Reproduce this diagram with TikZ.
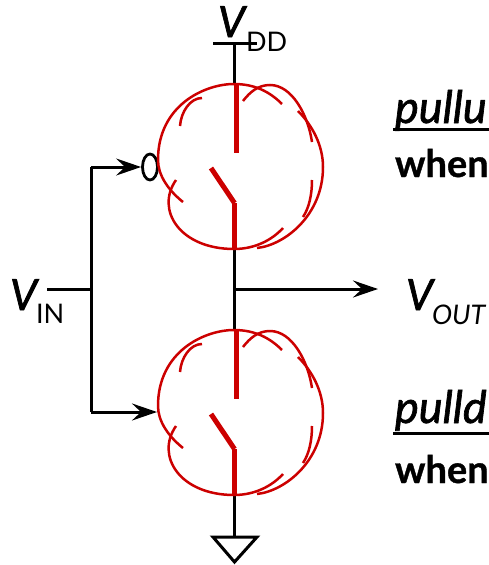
\documentclass[tikz,border=0pt]{standalone}
\usepackage{fontspec}
\setmainfont{Lato}
\usetikzlibrary{arrows.meta,shapes.geometric}
\definecolor{cred}{HTML}{CC0000}
\tikzset{
  wire/.style={draw=black,line width=3pt},
  arrowwire/.style={wire,-{Stealth[length=25pt,width=17pt,inset=9pt]}},
  cloudline/.style={draw=cred,line width=2.5pt},
  contact/.style={draw=cred,line width=5.5pt},
  swing/.style={draw=cred,line width=5pt},
  lab/.style={anchor=base west,inner sep=0pt,outer sep=0pt},
  bigv/.style={lab,font=\fontsize{43}{43}\selectfont\itshape\addfontfeature{FakeBold=1.5}},
  subs/.style={lab,font=\fontsize{27}{27}\selectfont},
  subi/.style={lab,font=\fontsize{27}{27}\selectfont\itshape},
  word/.style={lab,font=\fontsize{38}{38}\selectfont\bfseries\addfontfeature{FakeBold=1}},
  wordi/.style={lab,font=\fontsize{45}{45}\selectfont\itshape\addfontfeature{FakeBold=1.5}}
}
\newcommand{\switchcloud}{%
  \draw[cloudline] (234,84) .. controls (205,84) and (158,105) .. (158,160) .. controls (158,175) and (168,190) .. (183,202);
  \draw[cloudline] (176,180) .. controls (155,210) and (180,249) .. (234,249) .. controls (255,249) and (272,240) .. (283,228);
  \draw[cloudline] (257,248) .. controls (285,245) and (323,215) .. (323,167) .. controls (323,145) and (312,125) .. (298,111);
  \draw[cloudline] (312,180) .. controls (312,195) and (309,208) .. (303,217);
  \draw[cloudline] (312,142) .. controls (308,115) and (292,85) .. (270,85) .. controls (258,85) and (250,92) .. (243,101);
  \draw[cloudline] (234,84) .. controls (255,84) and (270,92) .. (282,104);
  \draw[cloudline] (180,126) .. controls (181,112) and (190,98) .. (202,98);
  \draw[contact] (236.5,84) -- (236.5,153);
  \draw[contact] (234.5,203) -- (234.5,249);
  \draw[swing] (211,168) -- (234.5,203);
}
\begin{document}
\begin{tikzpicture}[x=1pt,y=-1pt]
\useasboundingbox (0,0) rectangle (489,565);
\clip (0,0) rectangle (489,565);
% named points
\coordinate (vddL) at (213,43.5);
\coordinate (vddR) at (257,43.5);
\coordinate (vddT) at (234.5,43.5);
\coordinate (top1) at (234.5,84);
\coordinate (bot1) at (234.5,249);
\coordinate (top2) at (234.5,330);
\coordinate (bot2) at (234.5,495);
\coordinate (gnd) at (234.5,537);
\coordinate (out) at (234.5,289);
\coordinate (outEnd) at (378,289);
\coordinate (inStart) at (47,289);
\coordinate (inJ) at (91,289);
\coordinate (inT) at (91,167);
\coordinate (inB) at (91,412);
\coordinate (inBEnd) at (157,412);
\node[draw=black,line width=2.8pt,ellipse,inner sep=0pt,minimum width=15pt,minimum height=26pt] (bubble) at (150,167) {};
% wires
\path[wire] (vddL) -- (vddR);
\path[wire] (vddT) -- (top1);
\path[wire] (bot1) -- (top2);
\path[wire] (bot2) -- (gnd);
\path[wire,line join=miter] (gnd -| vddL) -- (gnd -| vddR) -- (234.5,562) -- cycle;
\path[arrowwire] (out) -- (outEnd);
\path[wire] (inStart) -- (inJ);
\path[wire] (inT) -- (inB);
\path[arrowwire] (inT) -- (bubble.west);
\path[arrowwire] (inB) -- (inBEnd);
% switches
\begin{scope}
\switchcloud
\end{scope}
\begin{scope}[yshift=-246pt]
\switchcloud
\end{scope}
% labels
\node[bigv] (vdd) at (218,37) {V};
\node[subs] (dd) at (246,51) {DD};
\node[bigv] (vin) at (10,310) {V};
\node[subs] (in) at (36,323) {IN};
\node[bigv] (vout) at (406,310) {V};
\node[subi] (o) at (432,324) {OUT};
\node[wordi] (pu) at (395,123) {pullu};
\node[word] (wu) at (395,177) {when};
\node[wordi] (pd) at (395,423) {pulld};
\node[word] (wd) at (395,483) {when};
\draw[black,line width=3pt] (393,129) -- (489,129);
\draw[black,line width=3pt] (393,433) -- (489,433);
\end{tikzpicture}
\end{document}
